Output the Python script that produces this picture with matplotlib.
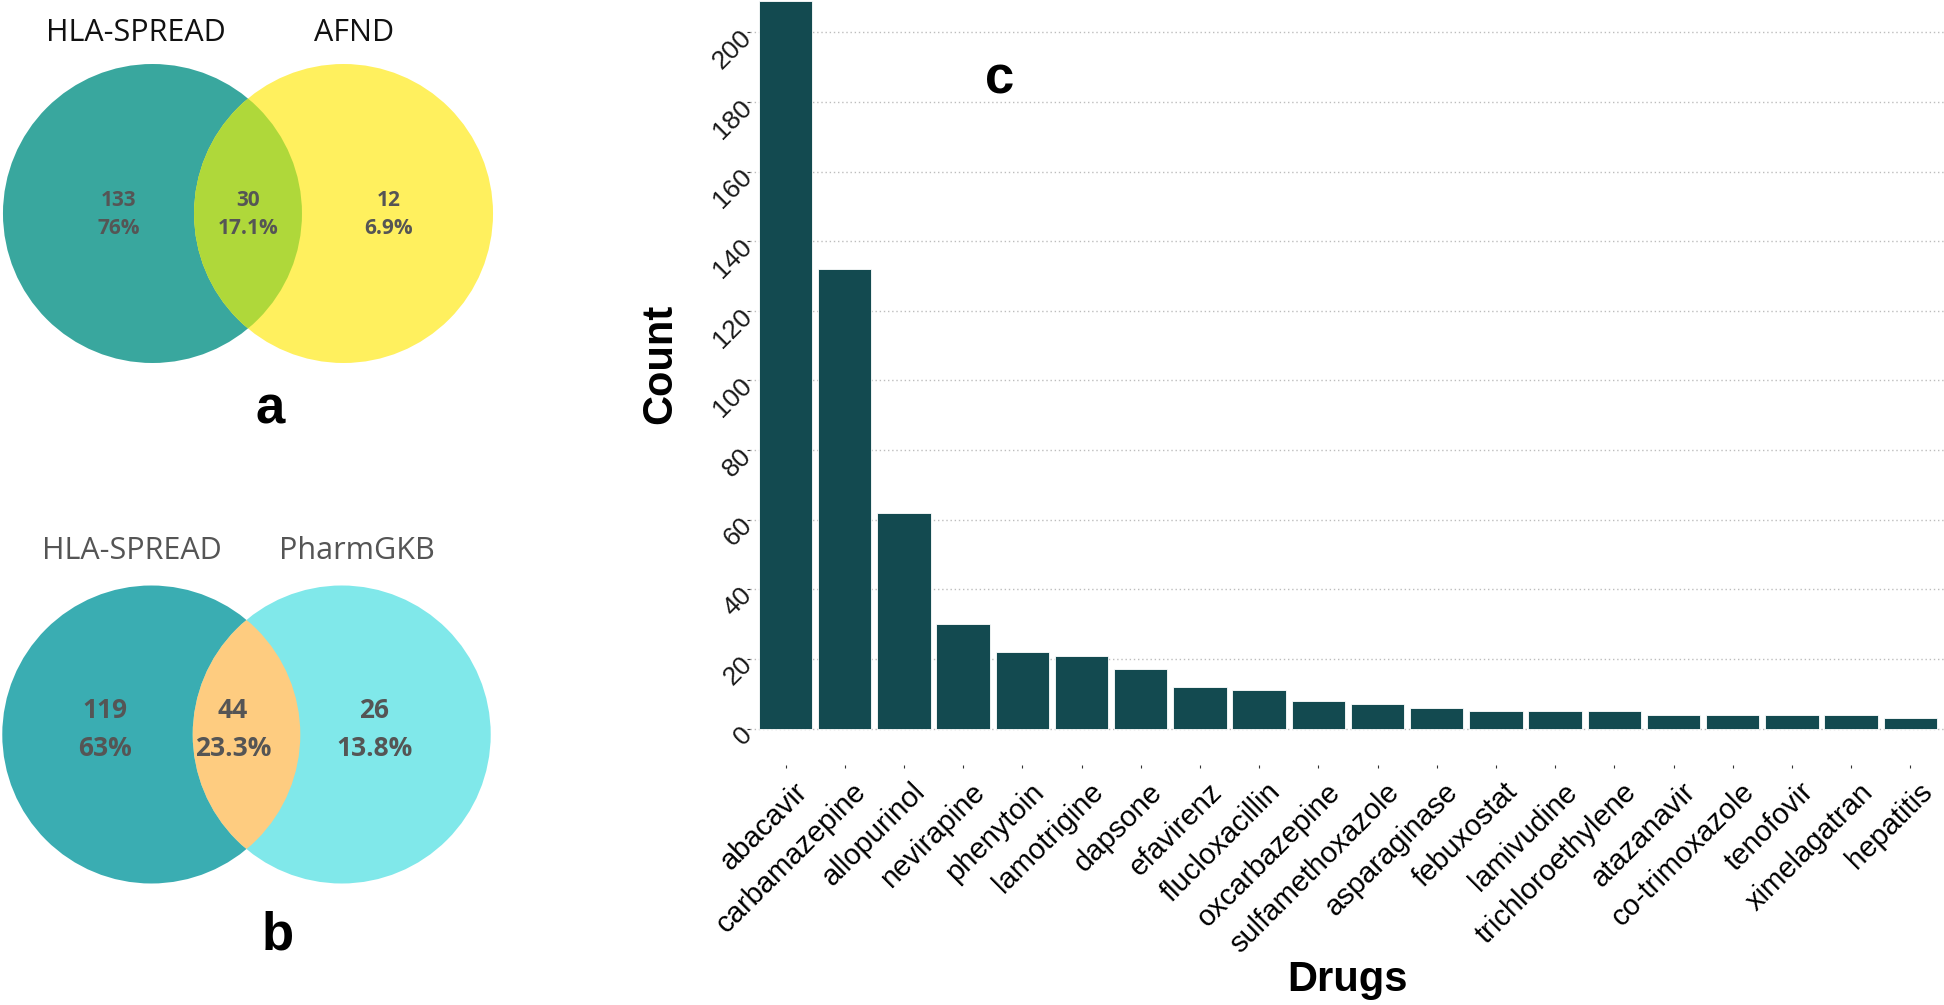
import matplotlib
matplotlib.use("Agg")
import matplotlib.pyplot as plt
from matplotlib.patches import Circle
from matplotlib.transforms import ScaledTranslation

# ---------------- data ----------------
drugs = ["abacavir", "carbamazepine", "allopurinol", "nevirapine", "phenytoin",
         "lamotrigine", "dapsone", "efavirenz", "flucloxacillin", "oxcarbazepine",
         "sulfamethoxazole", "asparaginase", "febuxostat", "lamivudine",
         "trichloroethylene", "atazanavir", "co-trimoxazole", "tenofovir",
         "ximelagatran", "hepatitis"]
counts = [209, 132, 62, 30, 22, 21, 17, 12, 11, 8, 7, 6, 5, 5, 5, 4, 4, 4, 4, 3]
yticks = list(range(0, 201, 20))

venn_a_names = ["HLA-SPREAD", "AFND"]
venn_a_counts = [133, 30, 12]          # left only, both, right only
venn_b_names = ["HLA-SPREAD", "PharmGKB"]
venn_b_counts = [119, 44, 26]

W, H = 1944, 1005
fig = plt.figure(figsize=(W / 100, H / 100), dpi=100)
fig.patch.set_facecolor("white")


def px_axes(l, t, r, b):
    return fig.add_axes([l / W, 1 - b / H, (r - l) / W, (b - t) / H])


def pct(v, tot):
    s = f"{100 * v / tot:.1f}"
    if s.endswith(".0"):
        s = s[:-2]
    return s + "%"


def venn(ax, names, vals, colors, title_color, title_x, title_y, num_x, num_y,
         pct_y, num_fs, letter, letter_xy):
    off = 0.639
    cl = Circle((-off, 0), 1.0, facecolor=colors[0], edgecolor="none", zorder=1)
    cr = Circle((off, 0), 1.0, facecolor=colors[1], edgecolor="none", zorder=1)
    ax.add_patch(cl)
    ax.add_patch(cr)
    lens = Circle((off, 0), 1.0, facecolor=colors[2], edgecolor="none", zorder=2)
    ax.add_patch(lens)
    lens.set_clip_path(Circle((-off, 0), 1.0, transform=ax.transData))
    for nm, x in zip(names, title_x):
        ax.text(x, title_y, nm, ha="center", va="center", fontsize=22,
                color=title_color, family="Open Sans")
    tot = sum(vals)
    for v, x in zip(vals, num_x):
        ax.text(x, num_y, str(v), ha="center", va="center", fontsize=num_fs,
                color="#555555", fontweight="bold", family="Open Sans", zorder=3)
        ax.text(x, pct_y, pct(v, tot), ha="center", va="center", fontsize=num_fs,
                color="#555555", fontweight="bold", family="Open Sans", zorder=3)
    ax.text(letter_xy[0], letter_xy[1], letter, ha="center", va="center",
            fontsize=38, fontweight="bold", family="Liberation Sans", color="black")
    ax.set_axis_off()


# ---------------- Venn a ----------------
axa = px_axes(0, 0, 496, 450)
r = 149.5
axa.set_xlim(-248 / r, 248 / r)
axa.set_ylim((213.5 - 450) / r, 213.5 / r)
venn(axa, venn_a_names, venn_a_counts, ["#39A79E", "#FFF05E", "#AFD83A"], "#111111",
     [-0.753, 0.709], 1.207, [-0.863, 0.0, 0.943], 0.09, -0.097, 15,
     "a", (0.147, -1.314))

# ---------------- Venn b ----------------
axb = px_axes(0, 480, 493, 1005)
r = 149.0
axb.set_xlim(-246.5 / r, 246.5 / r)
axb.set_ylim((734.5 - 1005) / r, (734.5 - 480) / r)
venn(axb, venn_b_names, venn_b_counts, ["#3AADB2", "#80E8EA", "#FECC80"], "#555555",
     [-0.768, 0.742], 1.232, [-0.950, -0.091, 0.856], 0.158, -0.091, 19,
     "b", (0.211, -1.346))

# ---------------- Bar chart c ----------------
ax = px_axes(750, 0, 1944, 765)
x = list(range(len(drugs)))
ax.bar(x, counts, width=0.9, color="#134A50", edgecolor="white", linewidth=0.6,
       zorder=2)
ax.set_xlim(-0.6, -0.6 + 1194 / 59.2)
ax.set_ylim(-10.45, 209.3)
ax.set_axisbelow(True)
ax.yaxis.grid(True, color="#BDBDBD", linestyle=(0, (1, 2)), linewidth=1.0, zorder=0)
ax.xaxis.grid(False)
for s in ax.spines.values():
    s.set_visible(False)

ax.set_yticks(yticks)
ax.set_yticklabels([str(v) for v in yticks], rotation=45, ha="right",
                   va="center_baseline", rotation_mode="anchor", fontsize=19,
                   family="Liberation Sans", color="#1a1a1a")
ax.set_xticks(x)
ax.set_xticklabels(drugs, rotation=45, ha="right", va="top", rotation_mode="anchor",
                   fontsize=21, family="Liberation Sans", color="black")
ax.tick_params(axis="both", length=2.2, width=0.8, color="#333333")
ax.tick_params(axis="y", pad=0.5)
ax.tick_params(axis="x", pad=1.5)
off = ScaledTranslation(7.5 / 100, -7.5 / 100, fig.dpi_scale_trans)
for lab in ax.get_xticklabels():
    lab.set_transform(lab.get_transform() + off)

ax.set_xlabel("Drugs", fontsize=30, fontweight="bold", family="Liberation Sans")
ax.xaxis.set_label_coords(0.5, (765 - 980) / 765)
ax.xaxis.label.set_va("center")
ax.set_ylabel("Count", fontsize=30, fontweight="bold", family="Liberation Sans")
ax.yaxis.set_label_coords((660 - 750) / 1194, (765 - 364) / 765)
ax.yaxis.label.set_va("center")

ax.text((1000 - 750) / 1194, (765 - 79) / 765, "c", transform=ax.transAxes,
        ha="center", va="center", fontsize=38, fontweight="bold",
        family="Liberation Sans")

fig.savefig("out.png", dpi=100, facecolor="white")
